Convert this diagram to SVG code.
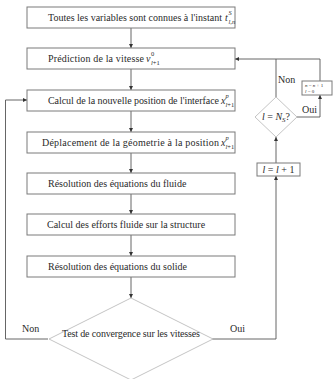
<svg xmlns="http://www.w3.org/2000/svg" width="336" height="379" viewBox="0 0 336 379">
<style>
  text { font-family: "Liberation Serif", serif; fill: #2a2a2a; font-size: 10px; }
  .box { fill: #fff; stroke: #7a7a7a; stroke-width: 1; }
  .dia { fill: #fff; stroke: #bdbdbd; stroke-width: 0.9; }
  .ln { fill: none; stroke: #555; stroke-width: 0.9; }
  .it { font-style: italic; }
  .sm { font-size: 6.5px; }
  .tiny { font-size: 5px; }
</style>
<defs>
  <marker id="ah" viewBox="0 0 6 6" refX="6" refY="3" markerWidth="4" markerHeight="4" orient="auto" markerUnits="userSpaceOnUse">
    <path d="M0,0 L6,3 L0,6 Z" fill="#333"/>
  </marker>
</defs>
<rect width="336" height="379" fill="#fff"/>

<g id="connectors">
  <line class="ln" x1="131" y1="28" x2="131" y2="48" marker-end="url(#ah)"/>
  <line class="ln" x1="131" y1="69" x2="131" y2="90" marker-end="url(#ah)"/>
  <line class="ln" x1="131" y1="111" x2="131" y2="132" marker-end="url(#ah)"/>
  <line class="ln" x1="131" y1="153" x2="131" y2="173" marker-end="url(#ah)"/>
  <line class="ln" x1="131" y1="194" x2="131" y2="214" marker-end="url(#ah)"/>
  <line class="ln" x1="131" y1="235" x2="131" y2="256" marker-end="url(#ah)"/>
  <line class="ln" x1="131" y1="277" x2="131" y2="298" marker-end="url(#ah)"/>
  <polyline class="ln" points="48,339 5.5,339 5.5,100 27,100" marker-end="url(#ah)"/>
  <polyline class="ln" points="212,339 276,339 276,176" marker-end="url(#ah)"/>
  <line class="ln" x1="276" y1="163" x2="276" y2="137" marker-end="url(#ah)"/>
  <line class="ln" x1="276" y1="97" x2="276" y2="59"/>
  <polyline class="ln" points="297,117 320,117 320,95" marker-end="url(#ah)"/>
  <polyline class="ln" points="320,81 320,59 235,59" marker-end="url(#ah)"/>
  <text x="22" y="332">Non</text>
  <text x="230" y="332">Oui</text>
  <text x="278" y="83">Non</text>
  <text x="302" y="113">Oui</text>
</g>

<g id="n1">
  <rect class="box" x="27" y="7" width="208" height="21"/>
  <text x="48" y="21" textLength="174" lengthAdjust="spacing">Toutes les variables sont connues à l'instant</text>
  <text x="225" y="21" class="it">t</text>
  <text x="228.5" y="15" class="it sm">S</text>
  <text x="228.5" y="24" class="it sm">l,n</text>
</g>

<g id="n2">
  <rect class="box" x="27" y="48" width="208" height="21"/>
  <text x="48" y="62" textLength="96" lengthAdjust="spacing">Prédiction de la vitesse</text>
  <text x="146" y="62" class="it">v</text>
  <text x="151" y="56" class="sm">0</text>
  <text x="151" y="65" class="sm"><tspan class="it">l</tspan>+1</text>
</g>

<g id="n3">
  <rect class="box" x="27" y="90" width="208" height="21"/>
  <text x="48" y="104" textLength="171" lengthAdjust="spacing">Calcul de la nouvelle position de l'interface</text>
  <text x="221" y="104" class="it">x</text>
  <text x="225.5" y="98" class="it sm">p</text>
  <text x="225.5" y="107" class="sm"><tspan class="it">l</tspan>+1</text>
</g>

<g id="n4">
  <rect class="box" x="27" y="132" width="208" height="21"/>
  <text x="42" y="146" textLength="177" lengthAdjust="spacing">Déplacement de la géometrie à la position</text>
  <text x="221" y="146" class="it">x</text>
  <text x="225.5" y="140" class="it sm">p</text>
  <text x="225.5" y="149" class="sm"><tspan class="it">l</tspan>+1</text>
</g>

<g id="n5">
  <rect class="box" x="27" y="173" width="208" height="21"/>
  <text x="48" y="187">Résolution des équations du fluide</text>
</g>

<g id="n6">
  <rect class="box" x="27" y="214" width="208" height="21"/>
  <text x="47" y="228">Calcul des efforts fluide sur la structure</text>
</g>

<g id="n7">
  <rect class="box" x="27" y="256" width="208" height="21"/>
  <text x="48" y="270">Résolution des équations du solide</text>
</g>

<g id="n8">
  <polygon class="dia" points="131,298 213,339 131,380 49,339"/>
  <text x="131" y="337" text-anchor="middle" textLength="138" lengthAdjust="spacing">Test de convergence sur les vitesses</text>
</g>

<g id="n9">
  <polygon class="dia" points="276,97 297,117 276,137 255,117"/>
  <text x="262" y="120"><tspan class="it">l</tspan> = <tspan class="it">N</tspan><tspan class="it" font-size="7" dy="2">S</tspan><tspan dy="-2">?</tspan></text>
</g>

<g id="n10">
  <rect class="box" x="257" y="163" width="43" height="13"/>
  <text x="278.5" y="173" text-anchor="middle"><tspan class="it">l</tspan> = <tspan class="it">l</tspan> + 1</text>
</g>

<g id="n11">
  <rect class="box" x="302" y="81" width="30" height="14"/>
  <text x="305" y="86.5" class="tiny"><tspan class="it">n</tspan> = <tspan class="it">n</tspan> + 1</text>
  <text x="305" y="92.5" class="tiny"><tspan class="it">l</tspan> = 0</text>
</g>
</svg>
